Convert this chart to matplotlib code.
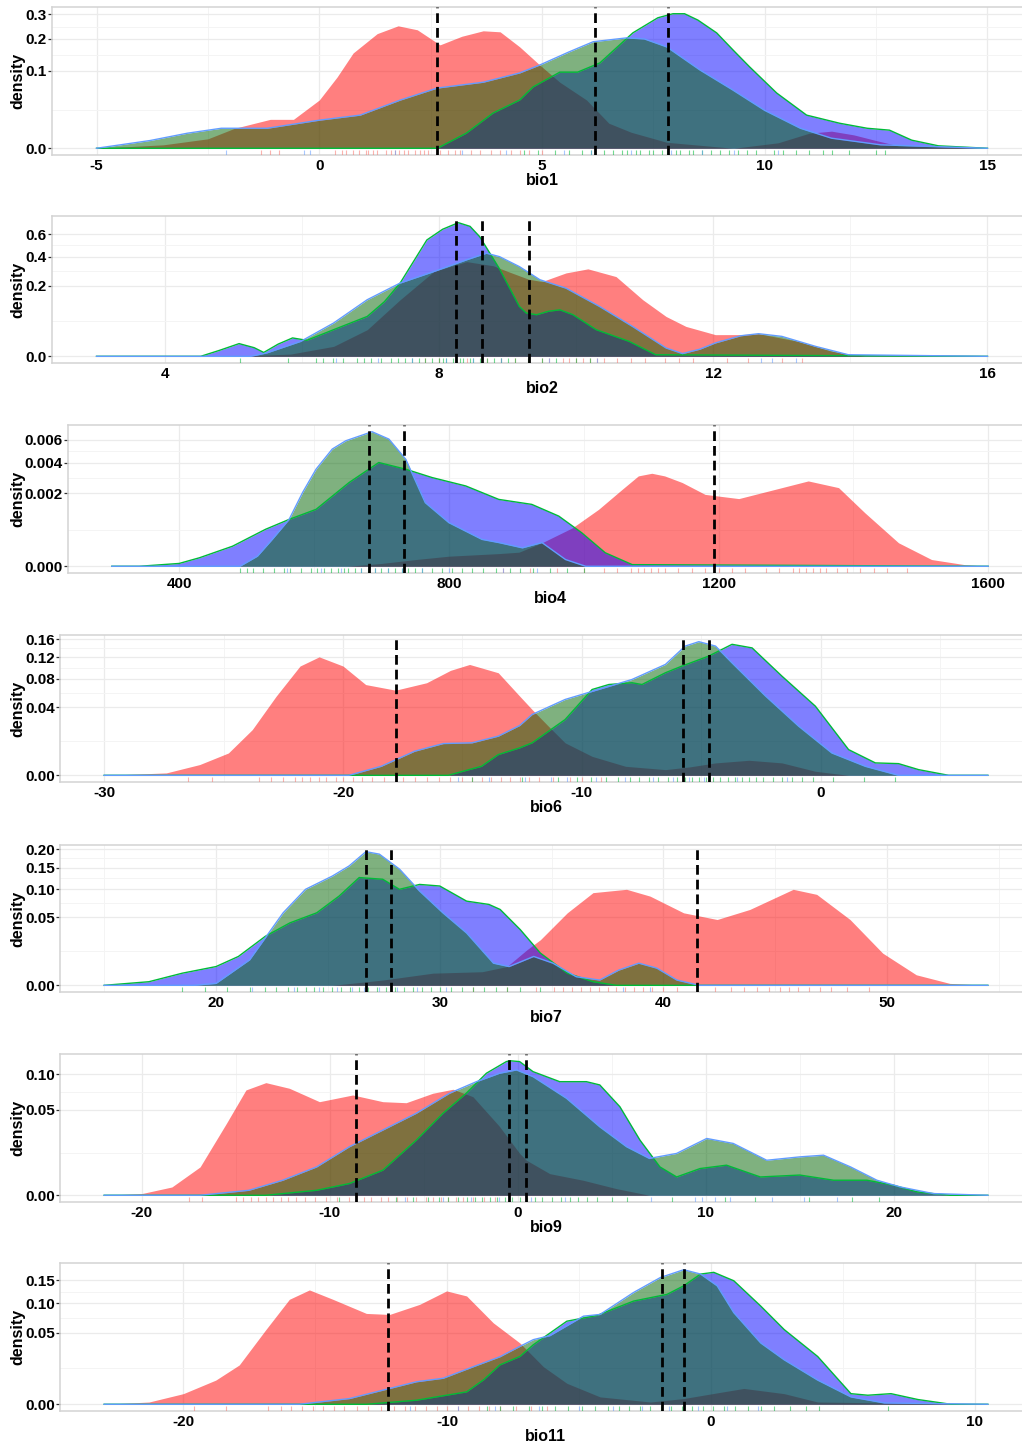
import numpy as np
import matplotlib
matplotlib.use("Agg")
import matplotlib.pyplot as plt

plt.rcParams["font.family"] = ["Liberation Sans", "DejaVu Sans"]
plt.rcParams["font.weight"] = "bold"


# DONNÉES (densités : (x, densité))

bio1_red = [(-5, 0), (-3.5, 0.0002), (-2.5, 0.0015), (-1.9, 0.0067), (-1.1, 0.014), (-0.58, 0.014),
            (0, 0.039), (0.4, 0.085), (0.76, 0.152), (1.3, 0.22), (1.77, 0.251), (2.2, 0.235), (2.71, 0.179),
            (3.2, 0.21), (3.68, 0.231), (4.06, 0.227), (4.5, 0.172), (4.95, 0.116), (5.4, 0.073),
            (6.0, 0.039), (6.5, 0.0105), (7.0, 0.0043), (7.8, 0.0006), (9.3, 0.0), (10.3, 0.0005),
            (11.0, 0.0038), (11.5, 0.0049), (12.0, 0.003), (12.5, 0.001), (13.0, 0.0001), (15, 0)]
bio1_blue = [(-5, 0), (2.65, 0), (3.3, 0.0038), (3.9, 0.0207), (4.5, 0.039), (4.8, 0.063), (5.4, 0.097),
             (5.8, 0.097), (6.3, 0.122), (7.04, 0.223), (7.6, 0.285), (7.94, 0.303), (8.2, 0.303),
             (8.5, 0.275), (8.92, 0.223), (9.3, 0.16), (9.66, 0.111), (10.27, 0.051), (10.94, 0.0184),
             (11.68, 0.0105), (12.3, 0.0067), (12.8, 0.0055), (13.3, 0.0011), (13.9, 0.0001), (15, 0)]
bio1_green = [(-5, 0), (-3.8, 0.001), (-2.96, 0.0038), (-2.2, 0.0067), (-1.17, 0.0067), (0, 0.0132),
              (0.92, 0.0184), (1.82, 0.0389), (2.65, 0.0607), (3.68, 0.073), (4.5, 0.095), (4.95, 0.116),
              (5.6, 0.155), (6.15, 0.19), (6.9, 0.204), (7.3, 0.2), (7.8, 0.172), (8.54, 0.103),
              (9.28, 0.057), (10.0, 0.024), (10.8, 0.0067), (11.5, 0.0017), (12.6, 0.0002), (15, 0)]
bio1_means = [2.65, 6.2, 7.82]
bio1_rug_red = [-1.3, -1.1, -0.9, 0.35, 0.5, 0.6, 0.75, 0.9, 1.05, 1.1, 1.2, 1.3, 1.5, 1.6, 1.7, 1.8,
                1.9, 2.0, 2.15, 2.25, 2.35, 2.45, 2.7, 2.9, 3.05, 3.15, 3.4, 3.6, 3.85, 4.05, 4.3, 4.5, 4.7, 5.0]
bio1_rug_blue = [4.6, 4.9, 5.3, 5.6, 5.9, 6.1, 6.4, 6.6, 6.8, 6.9, 7.1, 7.2, 7.4, 7.5, 7.7, 7.8, 8.0,
                 8.1, 8.3, 8.4, 8.6, 8.8, 9.0, 9.2, 9.4, 9.6, 9.8, 10.2, 10.4, 10.7, 11.0, 11.3, 11.5,
                 11.9, 12.5, 12.7]
bio1_rug_green = [-2.1, -0.35, -0.2, 1.7, 3.2, 4.2, 5.5, 6.1, 7.0, 7.9, 8.6, 9.3, 10.3]

bio2_red = [(3, 0), (5.0, 0), (5.83, 0.0002), (6.46, 0.004), (6.95, 0.0286), (7.43, 0.129), (7.92, 0.289),
            (8.4, 0.361), (8.79, 0.33), (9.0, 0.29), (9.3, 0.24), (9.5, 0.225), (9.85, 0.28), (10.17, 0.308),
            (10.58, 0.256), (10.97, 0.129), (11.31, 0.064), (11.6, 0.036), (12.03, 0.0189), (12.4, 0.019),
            (12.66, 0.0206), (13.24, 0.009), (13.73, 0.001), (14.21, 0), (16, 0)]
bio2_blue = [(3, 0), (4.52, 0), (4.8, 0.0015), (5.08, 0.0065), (5.3, 0.003), (5.44, 0.0006), (5.65, 0.006),
             (5.86, 0.0136), (6.07, 0.0103), (6.46, 0.0286), (6.95, 0.064), (7.2, 0.12), (7.43, 0.216),
             (7.82, 0.545), (8.05, 0.65), (8.28, 0.719), (8.45, 0.68), (8.59, 0.577), (8.88, 0.308),
             (9.17, 0.1), (9.27, 0.0755), (9.42, 0.0696), (9.6, 0.082), (9.76, 0.087), (9.95, 0.07),
             (10.29, 0.0286), (10.77, 0.009), (11.16, 0.0001), (16, 0)]
bio2_green = [(3, 0), (5.25, 0), (5.49, 0.0005), (5.98, 0.009), (6.46, 0.0447), (6.95, 0.129), (7.43, 0.216),
              (7.92, 0.289), (8.4, 0.375), (8.69, 0.428), (8.88, 0.4), (9.17, 0.324), (9.47, 0.236),
              (9.85, 0.187), (10.34, 0.1), (10.82, 0.036), (11.31, 0.0028), (11.55, 0.0003), (11.8, 0.002),
              (12.03, 0.0072), (12.4, 0.017), (12.66, 0.0206), (13.0, 0.016), (13.49, 0.004), (13.97, 0.0001),
              (16, 0)]
bio2_means = [8.24, 8.62, 9.31]
bio2_rug_red = [7.8, 8.0, 8.4, 8.7, 8.9, 9.1, 9.3, 9.5, 9.6, 9.8, 9.9, 10.0, 10.1, 10.2, 10.3, 10.4, 10.6,
                10.8, 11.0, 11.3, 11.5, 11.7, 12.2, 12.5, 13.0, 13.3]
bio2_rug_blue = [5.1, 5.8, 6.2, 6.3, 6.45, 6.6, 6.8, 6.9, 7.0, 7.15, 7.3, 7.4, 7.5, 7.6, 7.7, 7.8, 7.9,
                 8.0, 8.05, 8.1, 8.2, 8.3, 8.35, 8.45, 8.5, 8.6, 8.7, 8.8, 8.9, 9.0, 9.1, 9.3, 9.5, 9.7,
                 10.0, 10.2]
bio2_rug_green = [6.5, 7.1, 7.6, 8.1, 8.5, 8.9, 9.6, 10.3, 12.7, 12.85, 13.2]

bio4_red = [(300, 0), (650, 0), (700, 3e-6), (751, 1.7e-5), (800, 3.8e-5), (874, 6e-5), (904, 7.4e-5),
            (938, 2.06e-4), (983, 5.5e-4), (1022, 1.21e-3), (1057, 2.21e-3), (1081, 3.05e-3),
            (1101, 3.23e-3), (1120, 3.05e-3), (1146, 2.62e-3), (1180, 1.93e-3), (1230, 1.71e-3),
            (1284, 2.21e-3), (1333, 2.72e-3), (1378, 2.31e-3), (1417, 1.07e-3), (1467, 2.06e-4),
            (1516, 1.7e-5), (1565, 1e-6), (1600, 0)]
bio4_blue = [(300, 0), (341, 0), (400, 3e-6), (430, 2.7e-5), (479, 1.5e-4), (528, 5.1e-4), (563, 8.2e-4),
             (603, 1.21e-3), (652, 2.62e-3), (696, 4.02e-3), (736, 3.52e-3), (775, 2.94e-3),
             (825, 2.41e-3), (874, 1.67e-3), (923, 1.43e-3), (963, 9.4e-4), (997, 4.2e-4),
             (1032, 6.8e-5), (1072, 1e-6), (1600, 0)]
bio4_green = [(300, 0), (490, 0), (516, 3.8e-5), (538, 2.7e-4), (563, 8.2e-4), (583, 2.03e-3),
              (603, 3.52e-3), (627, 5.13e-3), (647, 5.88e-3), (686, 6.76e-3), (711, 6.04e-3),
              (736, 4.28e-3), (765, 1.51e-3), (800, 7.1e-4), (849, 2.7e-4), (874, 2.1e-4),
              (909, 1.27e-4), (938, 2.1e-4), (973, 1.7e-5), (1003, 0), (1600, 0)]
bio4_means = [681, 733, 1194]
bio4_rug_red = [880, 920, 960, 1000, 1030, 1050, 1070, 1080, 1090, 1100, 1110, 1120, 1140, 1160, 1180,
                1200, 1220, 1240, 1270, 1290, 1310, 1320, 1330, 1340, 1350, 1360, 1375, 1390, 1410,
                1430, 1450, 1480]
bio4_rug_blue = [490, 500, 510, 525, 540, 555, 565, 580, 595, 605, 615, 625, 635, 645, 650, 660, 670,
                 680, 690, 700, 710, 720, 730, 740, 750, 760, 775, 790, 805, 820, 835, 850, 870, 890,
                 905, 925, 950, 975, 1000]
bio4_rug_green = [560, 610, 640, 670, 690, 710, 730, 760, 800, 880, 930]

bio6_red = [(-30, 0), (-27.4, 5e-5), (-26.0, 1e-3), (-24.8, 4.3e-3), (-23.8, 0.018), (-22.8, 0.054),
            (-21.8, 0.103), (-21.0, 0.121), (-20.0, 0.103), (-19.05, 0.071), (-17.8, 0.0625),
            (-16.5, 0.0739), (-15.5, 0.095), (-14.7, 0.106), (-13.5, 0.0907), (-12.6, 0.054),
            (-12.08, 0.0373), (-11.4, 0.0208), (-10.7, 9.1e-3), (-9.57, 3.1e-3), (-8.17, 7e-4),
            (-6.5, 2.8e-4), (-5.5, 6e-4), (-4.4, 1.33e-3), (-3.0, 1.95e-3), (-1.62, 1.33e-3),
            (-0.22, 1.4e-4), (1.17, 0), (7, 0)]
bio6_blue = [(-30, 0), (-15.6, 0), (-14.2, 7e-4), (-13.5, 3.7e-3), (-12.6, 6.5e-3), (-12.08, 9.1e-3),
             (-10.7, 0.0268), (-9.57, 0.0635), (-8.87, 0.0711), (-7.9, 0.0739), (-7.48, 0.0711),
             (-6.5, 0.0907), (-5.8, 0.103), (-4.69, 0.1225), (-3.71, 0.148), (-2.87, 0.140),
             (-1.62, 0.0848), (-0.22, 0.0412), (1.17, 5.7e-3), (2.29, 1.33e-3), (3.26, 1.18e-3),
             (4.1, 2.8e-4), (5.36, 0), (7, 0)]
bio6_green = [(-30, 0), (-19.75, 0), (-18.4, 7e-4), (-17.0, 5e-3), (-15.8, 8.7e-3), (-14.6, 9.1e-3),
              (-13.5, 0.0132), (-12.6, 0.0214), (-12.08, 0.0319), (-10.7, 0.0496), (-9.3, 0.0635),
              (-7.9, 0.0792), (-6.5, 0.106), (-5.67, 0.144), (-5.1, 0.154), (-4.4, 0.144),
              (-3.71, 0.109), (-2.3, 0.054), (-0.92, 0.0208), (0.47, 4.3e-3), (1.87, 7e-4),
              (3.26, 0), (7, 0)]
bio6_means = [-17.8, -5.77, -4.69]
bio6_rug_red = [-26.5, -25.5, -23.5, -23, -22.5, -22, -21.7, -21.4, -21, -20.7, -20.3, -20, -19.6,
                -19.2, -18.8, -18.3, -17.5, -17, -16.5, -16, -15.5, -15, -14.6, -14.2, -13.8, -13.4,
                -13, -12.6, -12.2, -11.8, -11.2, -10.5, -10, -9.2]
bio6_rug_blue = [-14.6, -12.5, -11, -10.2, -9.6, -9, -8.5, -8, -7.6, -7.2, -6.8, -6.4, -6, -5.7, -5.4,
                 -5.1, -4.8, -4.5, -4.2, -3.9, -3.6, -3.3, -3, -2.7, -2.4, -2, -1.6, -1.2, -0.8, -0.3,
                 0.5, 1.8, 3.1]
bio6_rug_green = [-15.2, -13.9, -12.4, -11.3, -10.6, -9.4, -8.2, -7, -6.2, -5.5, -4.9, -3.5, -1.4]

bio7_red = [(15, 0), (25.2, 0), (27.45, 3e-4), (29.7, 1.6e-3), (31.9, 2e-3), (33.0, 3.8e-3),
            (33.9, 0.0137), (34.5, 0.0225), (35.7, 0.0568), (36.85, 0.0928), (38.35, 0.0996),
            (39.4, 0.086), (40.9, 0.0568), (42.4, 0.0468), (43.86, 0.0622), (45.8, 0.0996),
            (46.85, 0.0894), (48.34, 0.0468), (49.8, 0.0112), (51.3, 1.2e-3), (52.8, 4e-5), (54.5, 0)]
bio7_blue = [(15, 0), (17.0, 1.4e-4), (18.5, 1.6e-3), (20.0, 3.8e-3), (21.0, 9e-3), (22.2, 0.0259),
             (23.3, 0.0421), (24.5, 0.0568), (25.5, 0.086), (26.4, 0.1255), (27.45, 0.1216),
             (28.2, 0.0996), (29.1, 0.110), (30.0, 0.1066), (31.2, 0.0766), (32.2, 0.0707),
             (32.7, 0.0622), (33.6, 0.0335), (34.5, 0.0112), (35.7, 1.6e-3), (36.85, 1.4e-4),
             (37.9, 0), (54.5, 0)]
bio7_green = [(15, 0), (19, 0), (20.0, 4e-5), (21.5, 7e-3), (23.0, 0.0568), (24.0, 0.0996), (25.2, 0.129),
              (25.95, 0.154), (26.7, 0.193), (27.3, 0.186), (28.2, 0.146), (29.1, 0.096), (30.14, 0.0568),
              (31.2, 0.0296), (32.4, 5.3e-3), (33.1, 3.8e-3), (34.2, 9e-3), (35.06, 5.3e-3), (36.1, 8e-4),
              (37.15, 3e-4), (38.0, 2.5e-3), (38.9, 5.3e-3), (39.7, 3.2e-3), (40.6, 3e-4), (41.6, 0),
              (54.5, 0)]
bio7_means = [26.7, 27.84, 41.5]
bio7_rug_red = [31.5, 33, 34.3, 35.1, 35.5, 35.9, 36.3, 36.7, 37.1, 37.5, 37.9, 38.3, 38.7, 39.1, 39.5,
                40, 40.6, 41.5, 42.3, 43, 43.6, 44.2, 44.7, 45.2, 45.6, 46, 46.5, 47, 47.5, 48.2, 49.2]
bio7_rug_blue = [18.5, 19.5, 20.5, 21.5, 22.2, 22.7, 23.2, 23.6, 24, 24.4, 24.8, 25.2, 25.6, 26, 26.4,
                 26.8, 27.2, 27.6, 28, 28.4, 28.8, 29.2, 29.6, 30, 30.5, 31, 31.5, 32, 32.5, 33, 33.6, 34.5]
bio7_rug_green = [21.6, 23.5, 24.6, 25.4, 26.1, 26.6, 27.3, 28.1, 29, 30.3, 38.2, 39.4]

bio9_red = [(-22, 0), (-20, 2e-5), (-18.4, 4.7e-4), (-16.9, 5.5e-3), (-15.5, 0.0354), (-14.46, 0.076),
            (-13.4, 0.0869), (-12.15, 0.0784), (-10.55, 0.06), (-8.78, 0.0689), (-7.18, 0.06),
            (-5.94, 0.0587), (-4.52, 0.0713), (-3.45, 0.077), (-2.39, 0.0666), (-1.0, 0.033),
            (0.1, 0.012), (0.46, 8.4e-3), (1.7, 3.2e-3), (3.47, 1.55e-3), (5.25, 3e-4), (7.0, 0), (25, 0)]
bio9_blue = [(-22, 0), (-13.4, 0), (-10.7, 1.7e-4), (-8.96, 9.4e-4), (-7.18, 4.3e-3), (-5.4, 0.0208),
             (-3.98, 0.046), (-2.74, 0.0713), (-1.67, 0.102), (-0.61, 0.1224), (-0.43, 0.124),
             (0.1, 0.1224), (0.81, 0.1047), (2.23, 0.0884), (3.65, 0.0884), (4.36, 0.0834),
             (5.43, 0.0537), (6.5, 0.0208), (7.56, 5.5e-3), (8.45, 2.3e-3), (9.7, 4.9e-3),
             (11.1, 6.2e-3), (12.9, 2.3e-3), (15.0, 2.8e-3), (16.8, 1.55e-3), (18.57, 1.55e-3),
             (19.99, 6.9e-4), (21.24, 7.5e-5), (23.0, 0), (25, 0)]
bio9_green = [(-22, 0), (-16.9, 0), (-14.3, 1.7e-4), (-12.5, 1.55e-3), (-10.7, 5.5e-3), (-8.96, 0.0161),
              (-7.18, 0.0291), (-5.4, 0.046), (-3.63, 0.0713), (-2.2, 0.0884), (-0.97, 0.102),
              (-0.07, 0.1076), (0.81, 0.0964), (2.59, 0.0644), (4.36, 0.0321), (5.79, 0.0161),
              (7.0, 9.3e-3), (8.45, 0.012), (10.05, 0.0221), (11.46, 0.0184), (13.24, 8.4e-3),
              (15.0, 0.0101), (16.26, 0.011), (17.7, 5.5e-3), (19.1, 1.55e-3), (20.35, 4.7e-4),
              (22.1, 2e-5), (25, 0)]
bio9_means = [-8.58, -0.48, 0.42]
bio9_rug_red = [-17.5, -16.8, -15, -14.6, -14.2, -13.8, -13.4, -13, -12.6, -12.2, -11.8, -11.3, -10.8,
                -10.2, -9.6, -9, -8.6, -8.2, -7.8, -7.3, -6.9, -6.4, -5.9, -5.4, -4.9, -4.5, -4.1, -3.7,
                -3.3, -2.9, -2.4, -1.8, -1.2]
bio9_rug_blue = [-9.5, -6.5, -5.6, -4.8, -4.2, -3.7, -3.2, -2.7, -2.3, -1.9, -1.5, -1.1, -0.7, -0.3,
                 0.1, 0.5, 0.9, 1.3, 1.8, 2.3, 2.8, 3.2, 3.7, 4.2, 5.0, 5.8, 8.2, 11.0, 12.6, 15.5,
                 17.8, 19.2]
bio9_rug_green = [-6, -4, -2.5, -1, 0.7, 2.5, 7.1, 9.4, 9.8, 10.5, 11.3, 13.5, 15.2, 17.0]

bio11_red = [(-23, 0), (-21.3, 5e-5), (-20.0, 1.1e-3), (-18.77, 5.7e-3), (-17.88, 0.0151), (-16.87, 0.0545),
             (-15.98, 0.1076), (-15.22, 0.1277), (-14.33, 0.1076), (-13.06, 0.0806), (-12.18, 0.0788),
             (-11.04, 0.0975), (-10.02, 0.1255), (-9.26, 0.1146), (-8.25, 0.0648), (-7.24, 0.0367),
             (-6.35, 0.0138), (-5.46, 4.3e-3), (-4.2, 5.3e-4), (-2.29, 5e-5), (-1.03, 3.2e-4),
             (0.24, 1.27e-3), (1.25, 2.45e-3), (2.78, 1.1e-3), (4.05, 5e-5), (10.5, 0)]
bio11_blue = [(-23, 0), (-13.06, 0), (-11.16, 1.6e-4), (-9.26, 1.5e-3), (-8.6, 6e-3), (-8.0, 0.0151),
              (-7.24, 0.0223), (-6.73, 0.0346), (-5.46, 0.0674), (-4.32, 0.077), (-2.93, 0.104),
              (-1.66, 0.118), (-1.03, 0.137), (-0.39, 0.1656), (0.11, 0.170), (0.87, 0.149),
              (1.89, 0.0942), (2.78, 0.0545), (4.05, 0.0223), (5.31, 1.1e-3), (5.95, 8e-4),
              (6.83, 1.1e-3), (7.85, 2.2e-4), (9.1, 0), (10.5, 0)]
bio11_green = [(-23, 0), (-15.6, 0), (-13.7, 3.2e-4), (-12.43, 1.95e-3), (-11.16, 4.95e-3), (-10.15, 6.6e-3),
               (-9.0, 0.0138), (-8.0, 0.022), (-7.24, 0.0327), (-6.73, 0.0408), (-6.1, 0.046),
               (-4.83, 0.0758), (-4.2, 0.0788), (-2.93, 0.122), (-1.91, 0.157), (-1.03, 0.1768),
               (-0.39, 0.1656), (0.24, 0.137), (0.87, 0.0819), (1.89, 0.0367), (2.78, 0.0193),
               (4.05, 5.7e-3), (5.31, 5.3e-4), (6.58, 1.7e-5), (10.5, 0)]
bio11_means = [-12.25, -1.84, -1.0]
bio11_rug_red = [-19.6, -18.4, -16.8, -16.3, -15.9, -15.5, -15.1, -14.7, -14.3, -13.9, -13.4, -13, -12.5,
                 -12, -11.6, -11.2, -10.8, -10.4, -10, -9.6, -9.2, -8.8, -8.4, -8, -7.4, -6.8, -6.2]
bio11_rug_blue = [-8.5, -8, -7.5, -6.9, -6.4, -5.9, -5.4, -4.9, -4.4, -3.9, -3.5, -3.1, -2.7, -2.3, -1.9,
                  -1.5, -1.1, -0.7, -0.3, 0.1, 0.5, 0.9, 1.4, 1.9, 2.4, 3, 3.6, 4.1, 6.7]
bio11_rug_green = [-11.4, -9.6, -8.2, -6.5, -5, -3.7, -2.6, -1.6, -0.5, 0.6, 1.8]

variables = ["bio1", "bio2", "bio4", "bio6", "bio7", "bio9", "bio11"]
x_ticks = [[-5, 0, 5, 10, 15], [4, 8, 12, 16], [400, 800, 1200, 1600], [-30, -20, -10, 0],
           [20, 30, 40, 50], [-20, -10, 0, 10, 20], [-20, -10, 0, 10]]
y_ticks = [[0, 0.1, 0.2, 0.3], [0, 0.2, 0.4, 0.6], [0, 0.002, 0.004, 0.006],
           [0, 0.04, 0.08, 0.12, 0.16], [0, 0.05, 0.10, 0.15, 0.20], [0, 0.05, 0.10],
           [0, 0.05, 0.10, 0.15]]
y_decimals = [1, 1, 3, 2, 2, 2, 2]

panels = [
    (bio1_red, bio1_blue, bio1_green, bio1_means, bio1_rug_red, bio1_rug_blue, bio1_rug_green),
    (bio2_red, bio2_blue, bio2_green, bio2_means, bio2_rug_red, bio2_rug_blue, bio2_rug_green),
    (bio4_red, bio4_blue, bio4_green, bio4_means, bio4_rug_red, bio4_rug_blue, bio4_rug_green),
    (bio6_red, bio6_blue, bio6_green, bio6_means, bio6_rug_red, bio6_rug_blue, bio6_rug_green),
    (bio7_red, bio7_blue, bio7_green, bio7_means, bio7_rug_red, bio7_rug_blue, bio7_rug_green),
    (bio9_red, bio9_blue, bio9_green, bio9_means, bio9_rug_red, bio9_rug_blue, bio9_rug_green),
    (bio11_red, bio11_blue, bio11_green, bio11_means, bio11_rug_red, bio11_rug_blue, bio11_rug_green),
]


# MISE EN PAGE (pixels : gauche, haut, bas)

W, H = 1022, 1443
boxes = [(52, 7, 155), (52, 216, 363), (68, 425, 573), (60, 635, 782),
         (60, 845, 992), (60, 1054, 1202), (60, 1263, 1411)]
RIGHT = 1032

fills = ["red", "blue", "darkgreen"]
edges = [None, "#00BA38", "#619CFF"]
rug_colors = ["#F8766D", "#00BA38", "#619CFF"]


def fwd(v):
    return np.sign(v) * np.sqrt(np.abs(v))


def inv(v):
    return np.sign(v) * v ** 2


fig = plt.figure(figsize=(W / 100, H / 100), dpi=100)

for i, panel in enumerate(panels):
    left, top, bottom = boxes[i]
    ax = fig.add_axes([left / W, 1 - bottom / H, (RIGHT - left) / W, (bottom - top) / H])
    ax.set_yscale("function", functions=(fwd, inv))

    curves = [np.array(c, dtype=float) for c in panel[:3]]
    means = panel[3]
    rugs = panel[4:]

    for c, fc, ec in zip(curves, fills, edges):
        ax.fill_between(c[:, 0], 0, c[:, 1], color=fc, alpha=0.5, lw=0, zorder=2)
        if ec is not None:
            ax.plot(c[:, 0], c[:, 1], color=ec, lw=1.0, zorder=3)

    for r, rc in zip(rugs, rug_colors):
        ax.vlines(r, 0, 0.034, transform=ax.get_xaxis_transform(), colors=rc, alpha=0.55, lw=0.8, zorder=4)

    for m in means:
        ax.axvline(m, color="black", lw=2, ls=(0, (3.5, 1.8)), zorder=5)

    # limites à la ggplot (expansion 5 %)
    xmin = min(c[0, 0] for c in curves)
    xmax = max(c[-1, 0] for c in curves)
    dx = 0.05 * (xmax - xmin)
    ax.set_xlim(xmin - dx, xmax + dx)
    smax = np.sqrt(max(c[:, 1].max() for c in curves))
    ax.set_ylim(inv(-0.05 * smax), inv(1.05 * smax))

    xt = x_ticks[i]
    yt = y_ticks[i]
    ax.set_xticks(xt)
    ax.set_xticklabels([str(t) for t in xt])
    ax.set_yticks(yt)
    ax.set_yticklabels([f"{t:.{y_decimals[i]}f}" for t in yt])

    step = xt[1] - xt[0]
    xminor = [t + step / 2 for t in [xt[0] - step] + xt]
    ax.set_xticks([v for v in xminor if xmin - dx < v < xmax + dx], minor=True)
    sq = np.sqrt(yt)
    ax.set_yticks([((a + b) / 2) ** 2 for a, b in zip(sq[:-1], sq[1:])], minor=True)

    ax.grid(which="major", color="#EBEBEB", lw=0.9, zorder=0)
    ax.grid(which="minor", color="#F4F4F4", lw=0.7, zorder=0)
    ax.set_axisbelow(True)

    ax.tick_params(axis="y", which="major", length=2.8, width=0.9, color="#333333", pad=1,
                   labelsize=11, labelcolor="black")
    ax.tick_params(axis="x", which="major", length=0, pad=3, labelsize=11, labelcolor="black")
    ax.tick_params(which="minor", length=0)
    for lab in ax.get_xticklabels() + ax.get_yticklabels():
        lab.set_fontweight("bold")

    for s in ax.spines.values():
        s.set_color("#D3D3D3")
        s.set_linewidth(1.1)

    ax.set_xlabel(variables[i], fontsize=11.5, fontweight="bold", labelpad=0)
    fig.text(18 / W, 1 - (top + bottom) / 2 / H, "density", rotation=90, ha="center", va="center",
             fontsize=11.5, fontweight="bold")

plt.savefig("out.png", dpi=100)
